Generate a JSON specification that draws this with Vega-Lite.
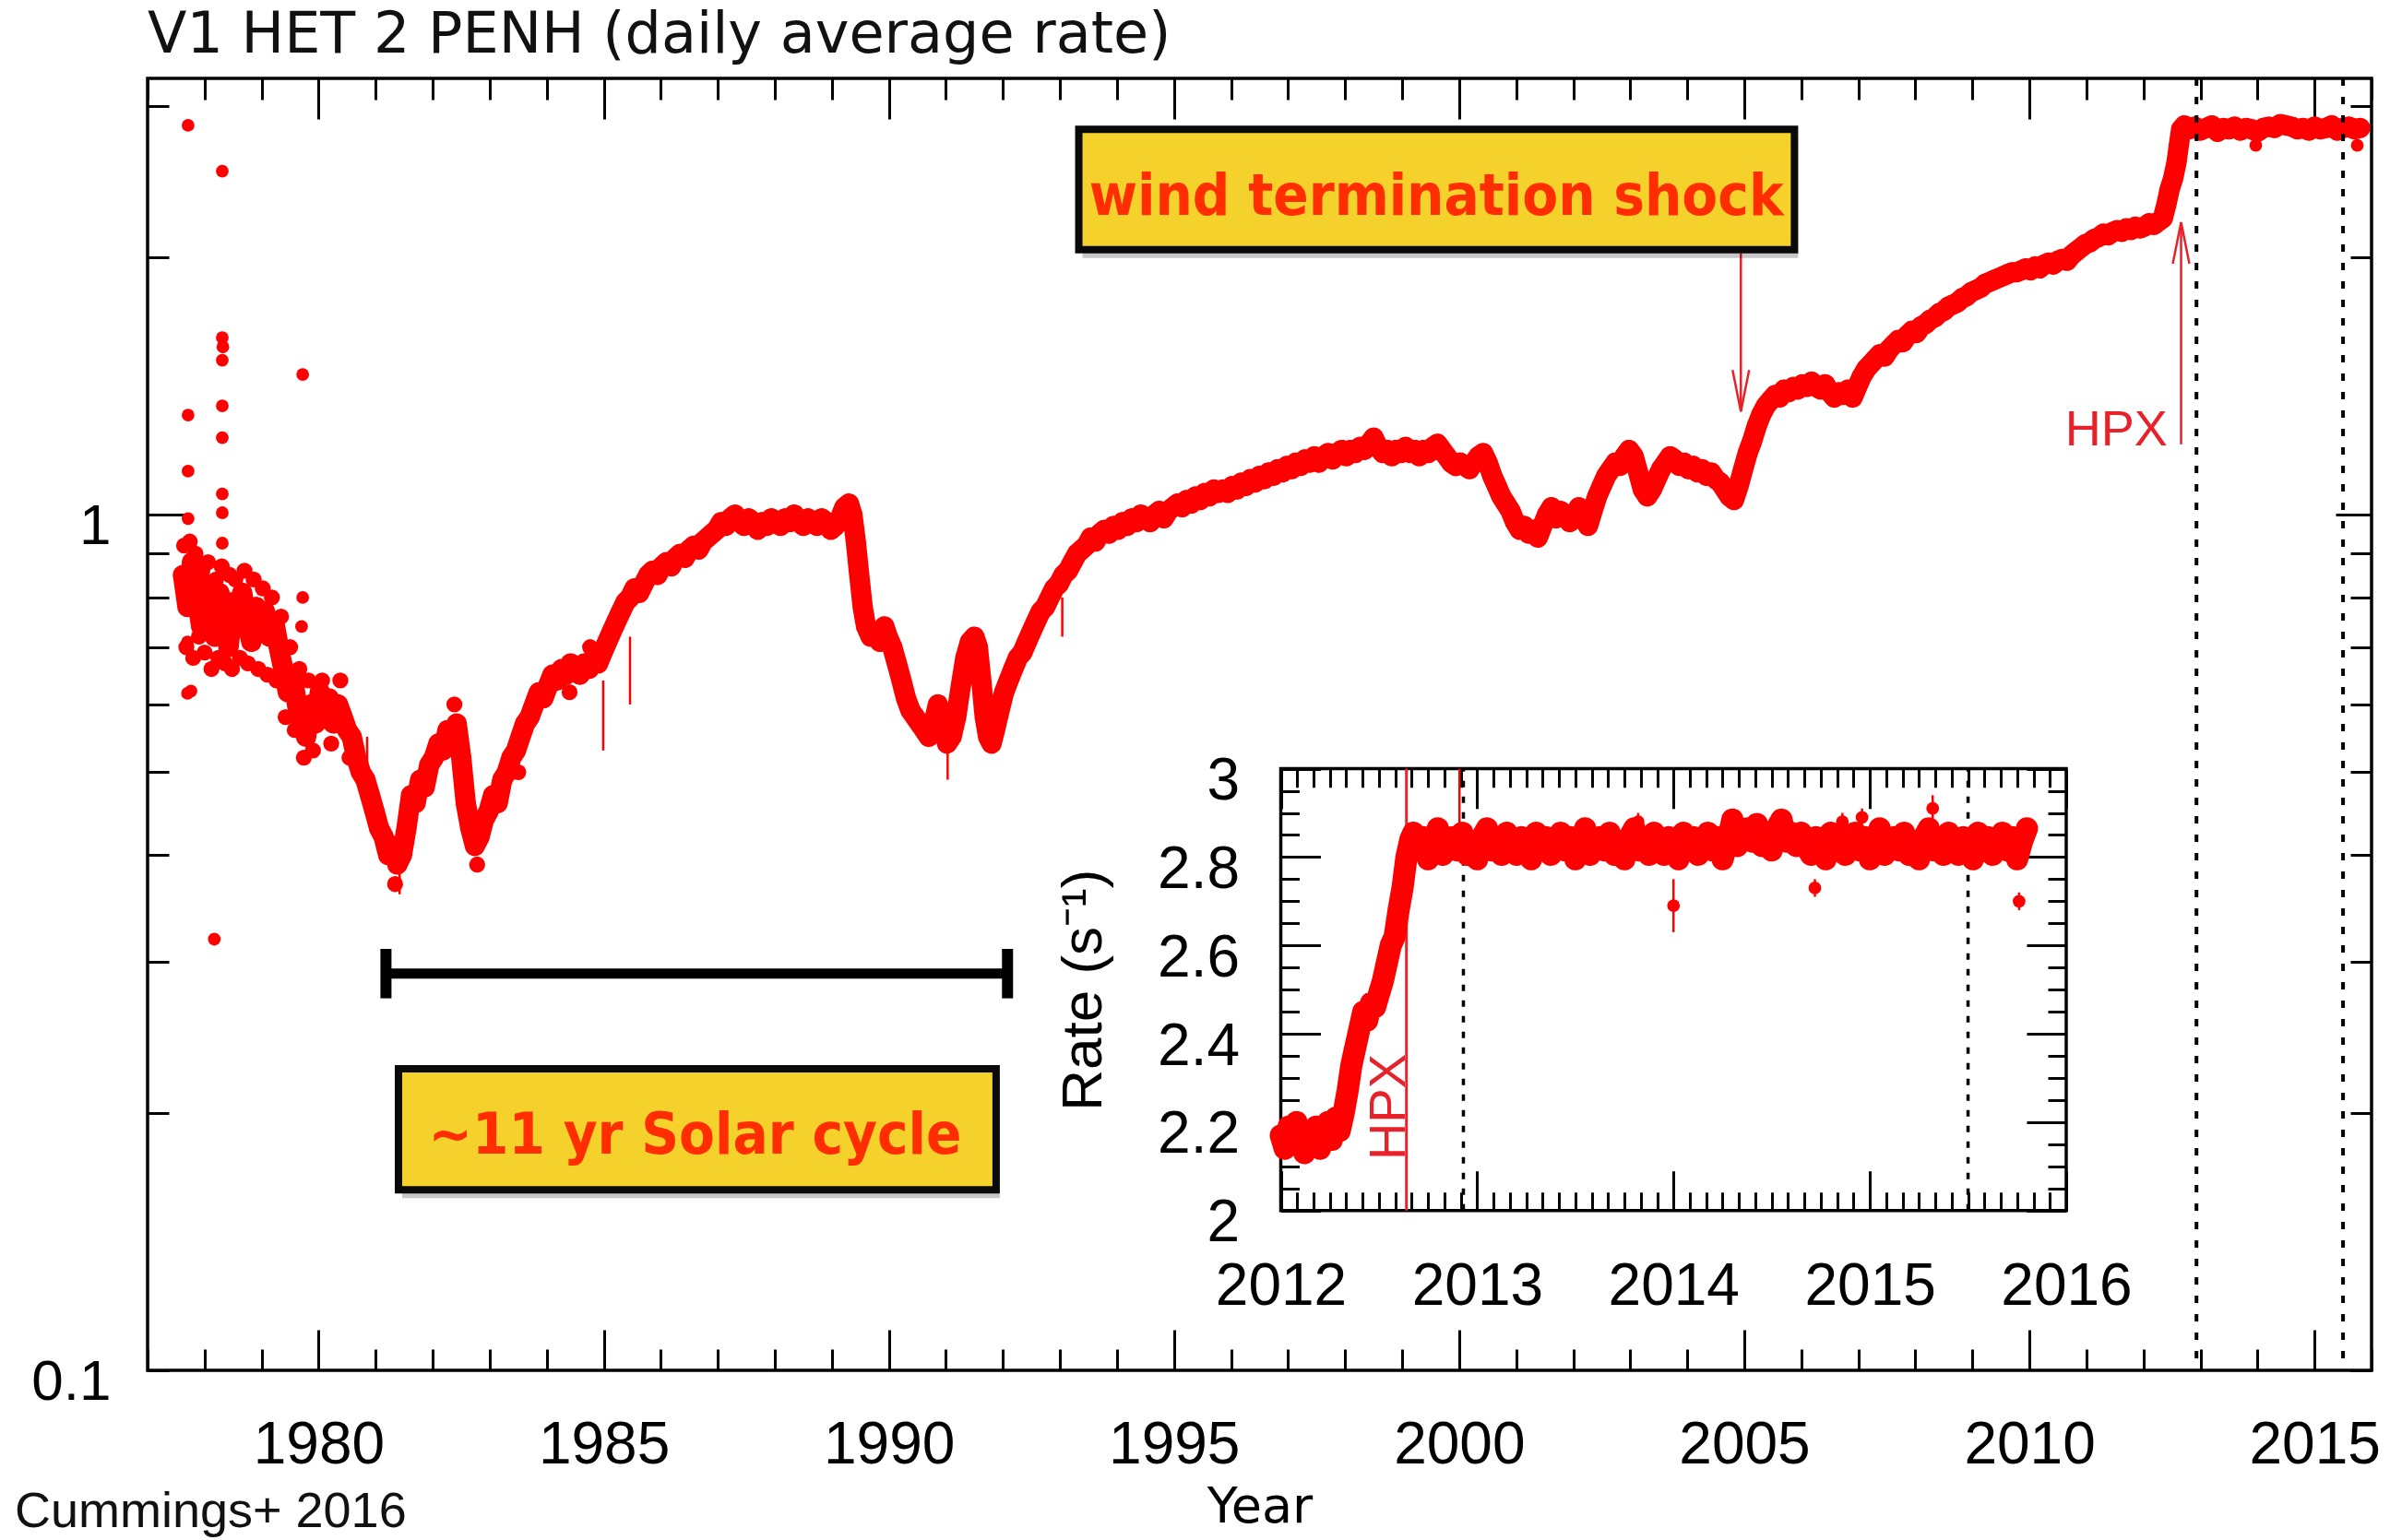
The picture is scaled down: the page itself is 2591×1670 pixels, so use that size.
{
  "$schema": "https://vega.github.io/schema/vega-lite/v6.json",
  "width": 2411,
  "height": 1401,
  "autosize": {"type": "none"},
  "padding": {"left": 160, "top": 85, "right": 20, "bottom": 184},
  "background": "white",
  "title": {
    "text": "V1 HET 2 PENH (daily average rate)",
    "anchor": "start",
    "frame": "group",
    "font": "DejaVu Sans",
    "fontSize": 62,
    "fontWeight": "normal",
    "color": "#111",
    "baseline": "alphabetic",
    "offset": -36
  },
  "config": {
    "view": {"stroke": "#000", "strokeWidth": 3.5},
    "axis": {"labelColor": "#000", "titleColor": "#000", "gridColor": "#000", "gridOpacity": 1, "gridWidth": 3, "domain": false, "ticks": false, "labelFlush": false, "labelOverlap": false}
  },
  "datasets": {
    "main": [
      {"year":1977.62,"rate":0.85},{"year":1977.70,"rate":0.78},{"year":1977.78,"rate":0.88},{"year":1977.86,"rate":0.80},{"year":1977.94,"rate":0.74},
      {"year":1978.02,"rate":0.83},{"year":1978.10,"rate":0.77},{"year":1978.18,"rate":0.72},{"year":1978.26,"rate":0.81},{"year":1978.34,"rate":0.76},
      {"year":1978.42,"rate":0.70},{"year":1978.50,"rate":0.79},{"year":1978.58,"rate":0.74},{"year":1978.66,"rate":0.81},{"year":1978.74,"rate":0.75},
      {"year":1978.82,"rate":0.71},{"year":1978.90,"rate":0.78},{"year":1978.98,"rate":0.73},{"year":1979.06,"rate":0.77},{"year":1979.14,"rate":0.72},
      {"year":1979.22,"rate":0.75},{"year":1979.30,"rate":0.70},{"year":1979.38,"rate":0.66},{"year":1979.46,"rate":0.62},{"year":1979.54,"rate":0.65},
      {"year":1979.62,"rate":0.60},{"year":1979.70,"rate":0.57},{"year":1979.78,"rate":0.55},{"year":1979.86,"rate":0.60},{"year":1979.94,"rate":0.57},
      {"year":1980.02,"rate":0.62},{"year":1980.10,"rate":0.59},{"year":1980.18,"rate":0.61},{"year":1980.26,"rate":0.57},{"year":1980.34,"rate":0.60},
      {"year":1980.42,"rate":0.58},{"year":1980.50,"rate":0.56},{"year":1980.58,"rate":0.55},{"year":1980.66,"rate":0.52},{"year":1980.74,"rate":0.50},
      {"year":1980.82,"rate":0.49},{"year":1980.90,"rate":0.47},{"year":1980.98,"rate":0.45},{"year":1981.06,"rate":0.43},{"year":1981.14,"rate":0.42},
      {"year":1981.22,"rate":0.40},{"year":1981.30,"rate":0.41},{"year":1981.38,"rate":0.39},{"year":1981.46,"rate":0.40},{"year":1981.54,"rate":0.43},
      {"year":1981.62,"rate":0.47},{"year":1981.70,"rate":0.46},{"year":1981.78,"rate":0.49},{"year":1981.86,"rate":0.48},{"year":1981.94,"rate":0.51},
      {"year":1982.02,"rate":0.52},{"year":1982.10,"rate":0.54},{"year":1982.18,"rate":0.53},{"year":1982.26,"rate":0.56},{"year":1982.34,"rate":0.55},
      {"year":1982.42,"rate":0.57},{"year":1982.50,"rate":0.52},{"year":1982.58,"rate":0.46},{"year":1982.66,"rate":0.43},{"year":1982.74,"rate":0.41},
      {"year":1982.82,"rate":0.42},{"year":1982.90,"rate":0.44},{"year":1982.98,"rate":0.45},{"year":1983.06,"rate":0.47},{"year":1983.14,"rate":0.46},
      {"year":1983.22,"rate":0.49},{"year":1983.30,"rate":0.50},{"year":1983.38,"rate":0.52},{"year":1983.46,"rate":0.53},{"year":1983.54,"rate":0.55},
      {"year":1983.62,"rate":0.57},{"year":1983.70,"rate":0.58},{"year":1983.78,"rate":0.60},{"year":1983.86,"rate":0.62},{"year":1983.94,"rate":0.61},
      {"year":1984.02,"rate":0.63},{"year":1984.10,"rate":0.65},{"year":1984.18,"rate":0.64},{"year":1984.26,"rate":0.66},{"year":1984.34,"rate":0.65},
      {"year":1984.42,"rate":0.67},{"year":1984.50,"rate":0.66},{"year":1984.58,"rate":0.65},{"year":1984.66,"rate":0.67},{"year":1984.74,"rate":0.66},
      {"year":1984.82,"rate":0.68},{"year":1984.90,"rate":0.67},{"year":1984.98,"rate":0.69},{"year":1985.06,"rate":0.71},{"year":1985.14,"rate":0.73},
      {"year":1985.22,"rate":0.75},{"year":1985.30,"rate":0.77},{"year":1985.38,"rate":0.79},{"year":1985.46,"rate":0.80},{"year":1985.54,"rate":0.82},
      {"year":1985.62,"rate":0.81},{"year":1985.70,"rate":0.83},{"year":1985.78,"rate":0.85},{"year":1985.86,"rate":0.86},{"year":1985.94,"rate":0.85},
      {"year":1986.02,"rate":0.87},{"year":1986.10,"rate":0.88},{"year":1986.18,"rate":0.87},{"year":1986.26,"rate":0.89},{"year":1986.34,"rate":0.90},
      {"year":1986.42,"rate":0.89},{"year":1986.50,"rate":0.91},{"year":1986.58,"rate":0.92},{"year":1986.66,"rate":0.91},{"year":1986.74,"rate":0.93},
      {"year":1986.82,"rate":0.94},{"year":1986.90,"rate":0.95},{"year":1986.98,"rate":0.96},{"year":1987.06,"rate":0.98},{"year":1987.14,"rate":0.97},
      {"year":1987.22,"rate":0.99},{"year":1987.30,"rate":1.00},{"year":1987.38,"rate":0.98},{"year":1987.46,"rate":0.97},{"year":1987.54,"rate":0.99},
      {"year":1987.62,"rate":0.98},{"year":1987.70,"rate":0.96},{"year":1987.78,"rate":0.98},{"year":1987.86,"rate":0.97},{"year":1987.94,"rate":0.99},
      {"year":1988.02,"rate":0.98},{"year":1988.10,"rate":0.97},{"year":1988.18,"rate":0.99},{"year":1988.26,"rate":0.98},{"year":1988.34,"rate":1.00},
      {"year":1988.42,"rate":0.98},{"year":1988.50,"rate":0.97},{"year":1988.58,"rate":0.99},{"year":1988.66,"rate":0.98},{"year":1988.74,"rate":0.97},
      {"year":1988.82,"rate":0.99},{"year":1988.90,"rate":0.98},{"year":1988.98,"rate":0.96},{"year":1989.06,"rate":0.97},{"year":1989.14,"rate":0.99},
      {"year":1989.22,"rate":1.02},{"year":1989.30,"rate":1.03},{"year":1989.36,"rate":1.00},{"year":1989.42,"rate":0.93},{"year":1989.48,"rate":0.85},
      {"year":1989.54,"rate":0.78},{"year":1989.60,"rate":0.74},{"year":1989.68,"rate":0.72},{"year":1989.76,"rate":0.73},{"year":1989.84,"rate":0.71},
      {"year":1989.92,"rate":0.74},{"year":1989.98,"rate":0.72},{"year":1990.06,"rate":0.70},{"year":1990.14,"rate":0.67},{"year":1990.22,"rate":0.64},
      {"year":1990.30,"rate":0.61},{"year":1990.38,"rate":0.59},{"year":1990.46,"rate":0.58},{"year":1990.54,"rate":0.57},{"year":1990.62,"rate":0.56},
      {"year":1990.70,"rate":0.55},{"year":1990.78,"rate":0.57},{"year":1990.86,"rate":0.60},{"year":1990.94,"rate":0.57},{"year":1991.02,"rate":0.54},
      {"year":1991.10,"rate":0.55},{"year":1991.18,"rate":0.58},{"year":1991.26,"rate":0.63},{"year":1991.34,"rate":0.68},{"year":1991.42,"rate":0.71},
      {"year":1991.50,"rate":0.72},{"year":1991.56,"rate":0.70},{"year":1991.62,"rate":0.64},{"year":1991.68,"rate":0.58},{"year":1991.74,"rate":0.55},
      {"year":1991.80,"rate":0.54},{"year":1991.86,"rate":0.56},{"year":1991.94,"rate":0.59},{"year":1992.02,"rate":0.62},{"year":1992.10,"rate":0.64},
      {"year":1992.18,"rate":0.66},{"year":1992.26,"rate":0.68},{"year":1992.34,"rate":0.69},{"year":1992.42,"rate":0.71},{"year":1992.50,"rate":0.73},
      {"year":1992.58,"rate":0.75},{"year":1992.66,"rate":0.77},{"year":1992.74,"rate":0.78},{"year":1992.82,"rate":0.80},{"year":1992.90,"rate":0.82},
      {"year":1992.98,"rate":0.83},{"year":1993.06,"rate":0.85},{"year":1993.14,"rate":0.86},{"year":1993.22,"rate":0.88},{"year":1993.30,"rate":0.90},
      {"year":1993.38,"rate":0.91},{"year":1993.46,"rate":0.92},{"year":1993.54,"rate":0.94},{"year":1993.62,"rate":0.93},{"year":1993.70,"rate":0.95},
      {"year":1993.78,"rate":0.96},{"year":1993.86,"rate":0.95},{"year":1993.94,"rate":0.97},{"year":1994.02,"rate":0.96},{"year":1994.10,"rate":0.98},
      {"year":1994.18,"rate":0.97},{"year":1994.26,"rate":0.99},{"year":1994.34,"rate":0.98},{"year":1994.42,"rate":1.00},{"year":1994.50,"rate":0.99},
      {"year":1994.58,"rate":0.98},{"year":1994.66,"rate":1.00},{"year":1994.74,"rate":1.01},{"year":1994.82,"rate":0.99},{"year":1994.90,"rate":1.01},
      {"year":1994.98,"rate":1.02},{"year":1995.06,"rate":1.03},{"year":1995.14,"rate":1.02},{"year":1995.22,"rate":1.04},{"year":1995.30,"rate":1.03},
      {"year":1995.38,"rate":1.05},{"year":1995.46,"rate":1.04},{"year":1995.54,"rate":1.06},{"year":1995.62,"rate":1.05},{"year":1995.70,"rate":1.07},
      {"year":1995.78,"rate":1.06},{"year":1995.86,"rate":1.07},{"year":1995.94,"rate":1.06},{"year":1996.02,"rate":1.08},{"year":1996.10,"rate":1.07},
      {"year":1996.18,"rate":1.09},{"year":1996.26,"rate":1.08},{"year":1996.34,"rate":1.10},{"year":1996.42,"rate":1.09},{"year":1996.50,"rate":1.11},
      {"year":1996.58,"rate":1.10},{"year":1996.66,"rate":1.12},{"year":1996.74,"rate":1.11},{"year":1996.82,"rate":1.13},{"year":1996.90,"rate":1.12},
      {"year":1996.98,"rate":1.14},{"year":1997.06,"rate":1.13},{"year":1997.14,"rate":1.15},{"year":1997.22,"rate":1.14},{"year":1997.30,"rate":1.16},
      {"year":1997.38,"rate":1.15},{"year":1997.46,"rate":1.17},{"year":1997.54,"rate":1.15},{"year":1997.62,"rate":1.17},{"year":1997.70,"rate":1.18},
      {"year":1997.78,"rate":1.16},{"year":1997.86,"rate":1.18},{"year":1997.94,"rate":1.19},{"year":1998.02,"rate":1.17},{"year":1998.10,"rate":1.19},
      {"year":1998.18,"rate":1.18},{"year":1998.26,"rate":1.20},{"year":1998.34,"rate":1.19},{"year":1998.42,"rate":1.21},{"year":1998.50,"rate":1.23},
      {"year":1998.58,"rate":1.20},{"year":1998.66,"rate":1.18},{"year":1998.74,"rate":1.19},{"year":1998.82,"rate":1.17},{"year":1998.90,"rate":1.19},
      {"year":1998.98,"rate":1.18},{"year":1999.06,"rate":1.20},{"year":1999.14,"rate":1.18},{"year":1999.22,"rate":1.19},{"year":1999.30,"rate":1.17},
      {"year":1999.38,"rate":1.19},{"year":1999.46,"rate":1.18},{"year":1999.54,"rate":1.20},{"year":1999.62,"rate":1.21},{"year":1999.70,"rate":1.19},
      {"year":1999.78,"rate":1.17},{"year":1999.86,"rate":1.15},{"year":1999.94,"rate":1.14},{"year":2000.02,"rate":1.15},{"year":2000.10,"rate":1.14},
      {"year":2000.18,"rate":1.13},{"year":2000.26,"rate":1.15},{"year":2000.34,"rate":1.17},{"year":2000.42,"rate":1.18},{"year":2000.50,"rate":1.15},
      {"year":2000.58,"rate":1.11},{"year":2000.66,"rate":1.08},{"year":2000.74,"rate":1.05},{"year":2000.82,"rate":1.03},{"year":2000.90,"rate":1.01},
      {"year":2000.98,"rate":0.98},{"year":2001.06,"rate":0.96},{"year":2001.14,"rate":0.97},{"year":2001.22,"rate":0.95},{"year":2001.30,"rate":0.96},
      {"year":2001.38,"rate":0.94},{"year":2001.46,"rate":0.97},{"year":2001.54,"rate":1.00},{"year":2001.62,"rate":1.02},{"year":2001.70,"rate":0.99},
      {"year":2001.78,"rate":1.01},{"year":2001.86,"rate":1.00},{"year":2001.94,"rate":0.98},{"year":2002.02,"rate":1.00},{"year":2002.10,"rate":1.02},
      {"year":2002.18,"rate":0.99},{"year":2002.26,"rate":0.97},{"year":2002.34,"rate":1.01},{"year":2002.42,"rate":1.05},{"year":2002.50,"rate":1.08},
      {"year":2002.58,"rate":1.11},{"year":2002.66,"rate":1.13},{"year":2002.74,"rate":1.15},{"year":2002.82,"rate":1.14},{"year":2002.90,"rate":1.17},
      {"year":2002.98,"rate":1.19},{"year":2003.06,"rate":1.17},{"year":2003.14,"rate":1.12},{"year":2003.22,"rate":1.07},{"year":2003.30,"rate":1.05},
      {"year":2003.38,"rate":1.07},{"year":2003.46,"rate":1.10},{"year":2003.54,"rate":1.13},{"year":2003.62,"rate":1.15},{"year":2003.70,"rate":1.17},
      {"year":2003.78,"rate":1.16},{"year":2003.86,"rate":1.14},{"year":2003.94,"rate":1.15},{"year":2004.02,"rate":1.13},{"year":2004.10,"rate":1.14},
      {"year":2004.18,"rate":1.12},{"year":2004.26,"rate":1.13},{"year":2004.34,"rate":1.11},{"year":2004.42,"rate":1.12},{"year":2004.50,"rate":1.10},
      {"year":2004.58,"rate":1.09},{"year":2004.66,"rate":1.07},{"year":2004.74,"rate":1.05},{"year":2004.82,"rate":1.04},{"year":2004.90,"rate":1.08},
      {"year":2004.98,"rate":1.13},{"year":2005.06,"rate":1.18},{"year":2005.14,"rate":1.22},{"year":2005.22,"rate":1.27},{"year":2005.30,"rate":1.31},
      {"year":2005.38,"rate":1.34},{"year":2005.46,"rate":1.36},{"year":2005.54,"rate":1.38},{"year":2005.62,"rate":1.37},{"year":2005.70,"rate":1.40},
      {"year":2005.78,"rate":1.39},{"year":2005.86,"rate":1.41},{"year":2005.94,"rate":1.40},{"year":2006.02,"rate":1.42},{"year":2006.10,"rate":1.41},
      {"year":2006.18,"rate":1.43},{"year":2006.26,"rate":1.41},{"year":2006.34,"rate":1.40},{"year":2006.42,"rate":1.42},{"year":2006.50,"rate":1.39},
      {"year":2006.58,"rate":1.37},{"year":2006.66,"rate":1.39},{"year":2006.74,"rate":1.38},{"year":2006.82,"rate":1.40},{"year":2006.90,"rate":1.37},
      {"year":2006.98,"rate":1.41},{"year":2007.06,"rate":1.45},{"year":2007.14,"rate":1.48},{"year":2007.22,"rate":1.50},{"year":2007.30,"rate":1.52},
      {"year":2007.38,"rate":1.54},{"year":2007.46,"rate":1.53},{"year":2007.54,"rate":1.56},{"year":2007.62,"rate":1.58},{"year":2007.70,"rate":1.60},
      {"year":2007.78,"rate":1.59},{"year":2007.86,"rate":1.62},{"year":2007.94,"rate":1.64},{"year":2008.02,"rate":1.63},{"year":2008.10,"rate":1.66},
      {"year":2008.18,"rate":1.67},{"year":2008.26,"rate":1.69},{"year":2008.34,"rate":1.70},{"year":2008.42,"rate":1.72},{"year":2008.50,"rate":1.73},
      {"year":2008.58,"rate":1.75},{"year":2008.66,"rate":1.76},{"year":2008.74,"rate":1.77},{"year":2008.82,"rate":1.79},{"year":2008.90,"rate":1.80},
      {"year":2008.98,"rate":1.82},{"year":2009.06,"rate":1.83},{"year":2009.14,"rate":1.84},{"year":2009.22,"rate":1.86},{"year":2009.30,"rate":1.87},
      {"year":2009.38,"rate":1.88},{"year":2009.46,"rate":1.89},{"year":2009.54,"rate":1.90},{"year":2009.62,"rate":1.91},{"year":2009.70,"rate":1.92},
      {"year":2009.78,"rate":1.92},{"year":2009.86,"rate":1.93},{"year":2009.94,"rate":1.94},{"year":2010.02,"rate":1.93},{"year":2010.10,"rate":1.95},
      {"year":2010.18,"rate":1.94},{"year":2010.26,"rate":1.96},{"year":2010.34,"rate":1.97},{"year":2010.42,"rate":1.96},{"year":2010.50,"rate":1.98},
      {"year":2010.58,"rate":1.99},{"year":2010.66,"rate":1.98},{"year":2010.74,"rate":2.01},{"year":2010.82,"rate":2.03},{"year":2010.90,"rate":2.05},
      {"year":2010.98,"rate":2.07},{"year":2011.06,"rate":2.08},{"year":2011.14,"rate":2.10},{"year":2011.22,"rate":2.11},{"year":2011.30,"rate":2.13},
      {"year":2011.38,"rate":2.12},{"year":2011.46,"rate":2.14},{"year":2011.54,"rate":2.15},{"year":2011.62,"rate":2.14},{"year":2011.70,"rate":2.16},
      {"year":2011.78,"rate":2.15},{"year":2011.86,"rate":2.17},{"year":2011.94,"rate":2.16},{"year":2012.02,"rate":2.17},{"year":2012.10,"rate":2.19},
      {"year":2012.18,"rate":2.18},{"year":2012.26,"rate":2.20},{"year":2012.34,"rate":2.22},{"year":2012.40,"rate":2.30},{"year":2012.46,"rate":2.40},
      {"year":2012.52,"rate":2.47},{"year":2012.58,"rate":2.58},{"year":2012.62,"rate":2.70},{"year":2012.66,"rate":2.82},{"year":2012.72,"rate":2.85},
      {"year":2012.80,"rate":2.82},{"year":2012.90,"rate":2.84},{"year":2013.00,"rate":2.81},{"year":2013.10,"rate":2.83},{"year":2013.20,"rate":2.85},
      {"year":2013.30,"rate":2.80},{"year":2013.40,"rate":2.83},{"year":2013.50,"rate":2.82},{"year":2013.60,"rate":2.84},{"year":2013.70,"rate":2.81},
      {"year":2013.80,"rate":2.83},{"year":2013.90,"rate":2.82},{"year":2014.00,"rate":2.80},{"year":2014.10,"rate":2.83},{"year":2014.20,"rate":2.84},
      {"year":2014.30,"rate":2.83},{"year":2014.40,"rate":2.86},{"year":2014.50,"rate":2.85},{"year":2014.60,"rate":2.84},{"year":2014.70,"rate":2.82},
      {"year":2014.80,"rate":2.83},{"year":2014.90,"rate":2.81},{"year":2015.00,"rate":2.84},{"year":2015.10,"rate":2.82},{"year":2015.20,"rate":2.83},
      {"year":2015.30,"rate":2.85},{"year":2015.40,"rate":2.81},{"year":2015.50,"rate":2.83},{"year":2015.60,"rate":2.84},{"year":2015.70,"rate":2.82},
      {"year":2015.80,"rate":2.83}
    ],
    "early": [
      {"year":1977.64,"rate":0.92},{"year":1977.68,"rate":0.70},{"year":1977.74,"rate":0.93},{"year":1977.80,"rate":0.68},{"year":1977.84,"rate":0.90},
      {"year":1977.90,"rate":0.72},{"year":1977.96,"rate":0.86},{"year":1978.00,"rate":0.69},{"year":1978.06,"rate":0.88},{"year":1978.12,"rate":0.66},
      {"year":1978.20,"rate":0.84},{"year":1978.24,"rate":0.68},{"year":1978.30,"rate":0.87},{"year":1978.36,"rate":0.67},{"year":1978.44,"rate":0.85},
      {"year":1978.48,"rate":0.66},{"year":1978.54,"rate":0.84},{"year":1978.62,"rate":0.68},{"year":1978.70,"rate":0.86},{"year":1978.76,"rate":0.67},
      {"year":1978.86,"rate":0.84},{"year":1978.94,"rate":0.66},{"year":1979.02,"rate":0.82},{"year":1979.10,"rate":0.65},{"year":1979.18,"rate":0.80},
      {"year":1979.26,"rate":0.64},{"year":1979.34,"rate":0.76},{"year":1979.42,"rate":0.58},{"year":1979.50,"rate":0.70},{"year":1979.58,"rate":0.56},
      {"year":1979.66,"rate":0.66},{"year":1979.74,"rate":0.52},{"year":1979.82,"rate":0.64},{"year":1979.90,"rate":0.53},{"year":1980.06,"rate":0.64},
      {"year":1980.22,"rate":0.54},{"year":1980.38,"rate":0.64},{"year":1980.54,"rate":0.52},{"year":1981.34,"rate":0.37},{"year":1982.38,"rate":0.60},
      {"year":1982.78,"rate":0.39},{"year":1983.50,"rate":0.50},{"year":1984.40,"rate":0.62},{"year":1984.76,"rate":0.70}
    ],
    "scatter": [
      {"year":1977.71,"rate":2.85},{"year":1978.31,"rate":2.52},{"year":1978.31,"rate":1.61},{"year":1978.32,"rate":1.57},
      {"year":1978.31,"rate":1.515},{"year":1978.31,"rate":1.34},{"year":1978.31,"rate":1.23},{"year":1978.31,"rate":1.057},
      {"year":1978.31,"rate":1.005},{"year":1978.31,"rate":0.926},{"year":1979.72,"rate":1.458},{"year":1977.71,"rate":1.307},
      {"year":1977.71,"rate":1.124},{"year":1977.71,"rate":0.989},{"year":1977.70,"rate":0.618},{"year":1977.76,"rate":0.622},
      {"year":1978.17,"rate":0.319},{"year":1977.70,"rate":0.71},{"year":1979.72,"rate":0.80},{"year":1979.70,"rate":0.74},
      {"year":2013.97,"rate":2.70},{"year":2015.75,"rate":2.70}
    ],
    "mainErr": [
      {"year":1984.99,"lo":0.53,"hi":0.64},{"year":1991.03,"lo":0.49,"hi":0.56},{"year":1993.04,"lo":0.72,"hi":0.80},
      {"year":1981.42,"lo":0.36,"hi":0.42},{"year":1980.85,"lo":0.47,"hi":0.55},{"year":1985.46,"lo":0.60,"hi":0.72}
    ],
    "arrows": [
      {"year":2004.94,"from":2.02,"to":1.32,"dir":"down"},
      {"year":2012.66,"from":1.208,"to":2.196,"dir":"up"}
    ],
    "boundaries": [{"year":2012.93},{"year":2015.5}],
    "inset": [
      {"year":2012.00,"rate":2.17},{"year":2012.02,"rate":2.14},{"year":2012.04,"rate":2.19},{"year":2012.06,"rate":2.15},{"year":2012.08,"rate":2.20},
      {"year":2012.10,"rate":2.16},{"year":2012.12,"rate":2.13},{"year":2012.14,"rate":2.18},{"year":2012.16,"rate":2.15},{"year":2012.18,"rate":2.19},
      {"year":2012.20,"rate":2.14},{"year":2012.22,"rate":2.17},{"year":2012.24,"rate":2.20},{"year":2012.26,"rate":2.16},{"year":2012.28,"rate":2.21},
      {"year":2012.30,"rate":2.18},{"year":2012.32,"rate":2.22},{"year":2012.34,"rate":2.27},{"year":2012.36,"rate":2.33},{"year":2012.38,"rate":2.37},
      {"year":2012.40,"rate":2.41},{"year":2012.42,"rate":2.45},{"year":2012.44,"rate":2.43},{"year":2012.46,"rate":2.47},{"year":2012.48,"rate":2.46},
      {"year":2012.50,"rate":2.49},{"year":2012.52,"rate":2.52},{"year":2012.54,"rate":2.56},{"year":2012.56,"rate":2.60},{"year":2012.58,"rate":2.62},
      {"year":2012.60,"rate":2.68},{"year":2012.62,"rate":2.73},{"year":2012.64,"rate":2.80},{"year":2012.66,"rate":2.84},
      {"year":2012.675,"rate":2.855},{"year":2012.700,"rate":2.815},{"year":2012.725,"rate":2.845},{"year":2012.750,"rate":2.795},{"year":2012.775,"rate":2.835},
      {"year":2012.800,"rate":2.865},{"year":2012.825,"rate":2.805},{"year":2012.850,"rate":2.825},{"year":2012.875,"rate":2.845},{"year":2012.900,"rate":2.815},
      {"year":2012.925,"rate":2.855},{"year":2012.950,"rate":2.805},{"year":2012.975,"rate":2.835},{"year":2013.000,"rate":2.795},{"year":2013.025,"rate":2.845},
      {"year":2013.050,"rate":2.865},{"year":2013.075,"rate":2.815},{"year":2013.100,"rate":2.835},{"year":2013.125,"rate":2.805},{"year":2013.150,"rate":2.855},
      {"year":2013.175,"rate":2.825},{"year":2013.200,"rate":2.805},{"year":2013.225,"rate":2.845},{"year":2013.250,"rate":2.835},{"year":2013.275,"rate":2.795},
      {"year":2013.300,"rate":2.855},{"year":2013.325,"rate":2.815},{"year":2013.350,"rate":2.845},{"year":2013.375,"rate":2.805},{"year":2013.400,"rate":2.835},
      {"year":2013.425,"rate":2.855},{"year":2013.450,"rate":2.815},{"year":2013.475,"rate":2.845},{"year":2013.500,"rate":2.795},{"year":2013.525,"rate":2.835},
      {"year":2013.550,"rate":2.865},{"year":2013.575,"rate":2.805},{"year":2013.600,"rate":2.825},{"year":2013.625,"rate":2.845},{"year":2013.650,"rate":2.815},
      {"year":2013.675,"rate":2.855},{"year":2013.700,"rate":2.805},{"year":2013.725,"rate":2.835},{"year":2013.750,"rate":2.795},{"year":2013.775,"rate":2.845},
      {"year":2013.800,"rate":2.865},{"year":2013.825,"rate":2.815},{"year":2013.850,"rate":2.835},{"year":2013.875,"rate":2.805},{"year":2013.900,"rate":2.855},
      {"year":2013.925,"rate":2.825},{"year":2013.950,"rate":2.805},{"year":2013.975,"rate":2.845},{"year":2014.000,"rate":2.835},{"year":2014.025,"rate":2.795},
      {"year":2014.050,"rate":2.855},{"year":2014.075,"rate":2.815},{"year":2014.100,"rate":2.845},{"year":2014.125,"rate":2.805},{"year":2014.150,"rate":2.835},
      {"year":2014.175,"rate":2.855},{"year":2014.200,"rate":2.815},{"year":2014.225,"rate":2.845},{"year":2014.250,"rate":2.795},{"year":2014.275,"rate":2.835},
      {"year":2014.300,"rate":2.885},{"year":2014.325,"rate":2.825},{"year":2014.350,"rate":2.845},{"year":2014.375,"rate":2.865},{"year":2014.400,"rate":2.835},
      {"year":2014.425,"rate":2.875},{"year":2014.450,"rate":2.825},{"year":2014.475,"rate":2.855},{"year":2014.500,"rate":2.815},{"year":2014.525,"rate":2.865},
      {"year":2014.550,"rate":2.885},{"year":2014.575,"rate":2.835},{"year":2014.600,"rate":2.855},{"year":2014.625,"rate":2.825},{"year":2014.650,"rate":2.855},
      {"year":2014.675,"rate":2.825},{"year":2014.700,"rate":2.805},{"year":2014.725,"rate":2.845},{"year":2014.750,"rate":2.835},{"year":2014.775,"rate":2.795},
      {"year":2014.800,"rate":2.855},{"year":2014.825,"rate":2.815},{"year":2014.850,"rate":2.845},{"year":2014.875,"rate":2.805},{"year":2014.900,"rate":2.835},
      {"year":2014.925,"rate":2.855},{"year":2014.950,"rate":2.815},{"year":2014.975,"rate":2.845},{"year":2015.000,"rate":2.795},{"year":2015.025,"rate":2.835},
      {"year":2015.050,"rate":2.865},{"year":2015.075,"rate":2.805},{"year":2015.100,"rate":2.825},{"year":2015.125,"rate":2.845},{"year":2015.150,"rate":2.815},
      {"year":2015.175,"rate":2.855},{"year":2015.200,"rate":2.805},{"year":2015.225,"rate":2.835},{"year":2015.250,"rate":2.795},{"year":2015.275,"rate":2.845},
      {"year":2015.300,"rate":2.865},{"year":2015.325,"rate":2.815},{"year":2015.350,"rate":2.835},{"year":2015.375,"rate":2.805},{"year":2015.400,"rate":2.855},
      {"year":2015.425,"rate":2.825},{"year":2015.450,"rate":2.805},{"year":2015.475,"rate":2.845},{"year":2015.500,"rate":2.835},{"year":2015.525,"rate":2.795},
      {"year":2015.550,"rate":2.855},{"year":2015.575,"rate":2.815},{"year":2015.600,"rate":2.845},{"year":2015.625,"rate":2.805},{"year":2015.650,"rate":2.835},
      {"year":2015.675,"rate":2.855},{"year":2015.700,"rate":2.815},{"year":2015.725,"rate":2.845},{"year":2015.750,"rate":2.795},{"year":2015.775,"rate":2.835},
      {"year":2015.800,"rate":2.865}
    ],
    "insetOutliers": [
      {"year":2014.00,"rate":2.69,"lo":2.63,"hi":2.75},
      {"year":2014.72,"rate":2.73,"lo":2.71,"hi":2.75},
      {"year":2015.76,"rate":2.70,"lo":2.68,"hi":2.72},
      {"year":2013.82,"rate":2.88,"lo":2.86,"hi":2.90},
      {"year":2014.86,"rate":2.88,"lo":2.86,"hi":2.90},
      {"year":2014.96,"rate":2.89,"lo":2.87,"hi":2.91},
      {"year":2015.32,"rate":2.91,"lo":2.88,"hi":2.94},
      {"year":2012.91,"rate":2.84,"lo":2.80,"hi":3.0}
    ]
  },
  "layer": [
    {
      "layer": [
        {
          "data": {"name": "main"},
          "mark": {"type": "line", "color": "#ff0000", "strokeWidth": 22, "strokeJoin": "round", "strokeCap": "round"},
          "encoding": {
            "x": {
              "field": "year", "type": "quantitative",
              "scale": {"domain": [1977, 2016], "nice": false, "zero": false},
              "axis": {
                "orient": "bottom",
                "values": [1977,1978,1979,1980,1981,1982,1983,1984,1985,1986,1987,1988,1989,1990,1991,1992,1993,1994,1995,1996,1997,1998,1999,2000,2001,2002,2003,2004,2005,2006,2007,2008,2009,2010,2011,2012,2013,2014,2015,2016],
                "labelExpr": "datum.value % 5 === 0 ? '' + datum.value : ''",
                "labelFont": "Liberation Sans", "labelFontSize": 64, "labelPadding": 49, "labelBaseline": "top",
                "title": "Year", "titleFont": "DejaVu Sans", "titleFontSize": 54, "titleFontWeight": "normal", "titlePadding": 8,
                "grid": true,
                "gridDash": {"condition": {"test": "datum.value % 5 === 0", "value": [44, 1313, 44]}, "value": [23, 1355, 23]}
              }
            },
            "y": {
              "field": "rate", "type": "quantitative",
              "scale": {"type": "log", "domain": [0.1, 3.234], "nice": false},
              "axis": {
                "orient": "left",
                "values": [0.1,0.2,0.3,0.4,0.5,0.6,0.7,0.8,0.9,1,2,3],
                "labelExpr": "datum.value === 1 ? '1' : (abs(datum.value - 0.1) < 1e-9 ? '0.1' : '')",
                "labelFont": "Liberation Sans", "labelFontSize": 62, "labelPadding": 40, "labelBaseline": "middle", "labelOffset": 12,
                "title": null,
                "grid": true,
                "gridDash": {"condition": {"test": "datum.value === 1", "value": [39, 2333, 39]}, "value": [23, 2365, 23]}
              }
            }
          }
        },
        {
          "data": {"name": "main"},
          "mark": {"type": "circle", "color": "#ff0000", "size": 450, "opacity": 1},
          "encoding": {
            "x": {"field": "year", "type": "quantitative"},
            "y": {"field": "rate", "type": "quantitative"}
          }
        },
        {
          "data": {"name": "early"},
          "mark": {"type": "circle", "color": "#ff0000", "size": 300, "opacity": 1},
          "encoding": {
            "x": {"field": "year", "type": "quantitative"},
            "y": {"field": "rate", "type": "quantitative"}
          }
        },
        {
          "data": {"name": "scatter"},
          "mark": {"type": "circle", "color": "#ff0000", "size": 190, "opacity": 1},
          "encoding": {
            "x": {"field": "year", "type": "quantitative"},
            "y": {"field": "rate", "type": "quantitative"}
          }
        },
        {
          "data": {"name": "mainErr"},
          "mark": {"type": "rule", "color": "#ff0000", "strokeWidth": 2.5},
          "encoding": {
            "x": {"field": "year", "type": "quantitative"},
            "y": {"field": "lo", "type": "quantitative"},
            "y2": {"field": "hi"}
          }
        },
        {
          "data": {"name": "boundaries"},
          "mark": {"type": "rule", "color": "#000", "strokeWidth": 4, "strokeDash": [8, 12]},
          "encoding": {
            "x": {"field": "year", "type": "quantitative"}
          }
        },
        {
          "data": {"name": "arrows"},
          "mark": {"type": "rule", "color": "#e8222a", "strokeWidth": 2.5},
          "encoding": {
            "x": {"field": "year", "type": "quantitative"},
            "y": {"field": "from", "type": "quantitative"},
            "y2": {"field": "to"}
          }
        },
        {
          "data": {"name": "arrows"},
          "mark": {"type": "point", "filled": false, "color": "#e8222a", "strokeWidth": 2.5, "size": 8100, "opacity": 1},
          "encoding": {
            "x": {"field": "year", "type": "quantitative"},
            "y": {"field": "to", "type": "quantitative"},
            "shape": {"field": "dir", "type": "nominal", "legend": null,
              "scale": {"domain": ["down", "up"], "range": ["M-0.2,-1L0,0L0.2,-1", "M-0.2,1L0,0L0.2,1"]}}
          }
        },
        {
          "data": {"values": [{}]},
          "mark": {"type": "text", "text": "HPX", "font": "Liberation Sans", "fontSize": 54, "color": "#e8222a", "align": "right", "baseline": "alphabetic"},
          "encoding": {
            "x": {"datum": 2012.42, "type": "quantitative"},
            "y": {"datum": 1.205, "type": "quantitative"}
          }
        },
        {
          "data": {"values": [{}]},
          "mark": {"type": "rule", "color": "#000", "strokeWidth": 11},
          "encoding": {
            "x": {"datum": 1981.18, "type": "quantitative"},
            "x2": {"datum": 1992.08},
            "y": {"datum": 0.2908, "type": "quantitative"}
          }
        },
        {
          "data": {"values": [{"year": 1981.18}, {"year": 1992.08}]},
          "mark": {"type": "rule", "color": "#000", "strokeWidth": 12},
          "encoding": {
            "x": {"field": "year", "type": "quantitative"},
            "y": {"datum": 0.2721, "type": "quantitative"},
            "y2": {"datum": 0.3108}
          }
        },
        {
          "data": {"values": [{"x0": 1993.33, "x1": 2005.88, "y0": 2.82, "y1": 2.04}, {"x0": 1981.40, "x1": 1991.88, "y0": 0.2251, "y1": 0.1625}]},
          "layer": [
            {
              "mark": {"type": "rect", "color": "#000", "opacity": 0.22, "xOffset": 4, "x2Offset": 4, "yOffset": 9, "y2Offset": 9},
              "encoding": {
                "x": {"field": "x0", "type": "quantitative"},
                "x2": {"field": "x1"},
                "y": {"field": "y0", "type": "quantitative"},
                "y2": {"field": "y1"}
              }
            },
            {
              "mark": {"type": "rect", "fill": "#f5d22b", "stroke": "#0a0a0a", "strokeWidth": 8, "opacity": 1},
              "encoding": {
                "x": {"field": "x0", "type": "quantitative"},
                "x2": {"field": "x1"},
                "y": {"field": "y0", "type": "quantitative"},
                "y2": {"field": "y1"}
              }
            }
          ]
        },
        {
          "data": {"values": [{"note": "wind termination shock", "year": 1999.6, "rate": 2.239}, {"note": "~11 yr Solar cycle", "year": 1986.6, "rate": 0.1791}]},
          "mark": {"type": "text", "font": "DejaVu Sans Condensed, DejaVu Sans, sans-serif", "fontWeight": "bold", "fontSize": 63, "color": "#ff2d00", "align": "center", "baseline": "alphabetic"},
          "encoding": {
            "x": {"field": "year", "type": "quantitative"},
            "y": {"field": "rate", "type": "quantitative"},
            "text": {"field": "note"}
          }
        },
        {
          "data": {"values": [{}]},
          "mark": {"type": "text", "text": "Cummings+ 2016", "font": "Liberation Sans", "fontSize": 54, "color": "#111", "align": "left", "baseline": "alphabetic"},
          "encoding": {
            "x": {"datum": 1974.67, "type": "quantitative"},
            "y": {"datum": 0.0656, "type": "quantitative"}
          }
        }
      ]
    },
    {
      "layer": [
        {
          "data": {"values": [{}]},
          "mark": {"type": "rect", "filled": false, "stroke": "#000", "strokeWidth": 3.5},
          "encoding": {
            "x": {
              "datum": 2012, "type": "quantitative",
              "scale": {"domain": [2012, 2016], "range": [1228.5, 2080], "nice": false, "zero": false},
              "axis": {
                "orient": "top", "offset": -748.6,
                "values": [2012,2012.0833,2012.1667,2012.25,2012.3333,2012.4167,2012.5,2012.5833,2012.6667,2012.75,2012.8333,2012.9167,
                           2013,2013.0833,2013.1667,2013.25,2013.3333,2013.4167,2013.5,2013.5833,2013.6667,2013.75,2013.8333,2013.9167,
                           2014,2014.0833,2014.1667,2014.25,2014.3333,2014.4167,2014.5,2014.5833,2014.6667,2014.75,2014.8333,2014.9167,
                           2015,2015.0833,2015.1667,2015.25,2015.3333,2015.4167,2015.5,2015.5833,2015.6667,2015.75,2015.8333,2015.9167,2016],
                "labelExpr": "abs(datum.value - round(datum.value)) < 0.001 ? '' + round(datum.value) : ''",
                "labelFont": "Liberation Sans", "labelFontSize": 64, "labelPadding": -529.4, "labelBaseline": "top",
                "title": null,
                "grid": true,
                "gridDash": {"condition": {"test": "abs(datum.value - round(datum.value)) < 0.001", "value": [43, 393, 43]}, "value": [20, 439, 20]}
              }
            },
            "x2": {"datum": 2016},
            "y": {
              "datum": 2, "type": "quantitative",
              "scale": {"domain": [2, 3], "range": [1227.7, 748.6], "nice": false, "zero": false},
              "axis": {
                "orient": "left", "offset": -1228.5,
                "values": [2,2.05,2.1,2.15,2.2,2.25,2.3,2.35,2.4,2.45,2.5,2.55,2.6,2.65,2.7,2.75,2.8,2.85,2.9,2.95,3],
                "labelExpr": "abs(datum.value * 5 - round(datum.value * 5)) < 0.001 ? format(datum.value, '.1~f') : ''",
                "labelFont": "Liberation Sans", "labelFontSize": 64, "labelPadding": 45, "labelBaseline": "middle", "labelOffset": 14,
                "title": "Rate  (s⁻¹)", "titleFont": "Liberation Sans", "titleFontSize": 62, "titleFontWeight": "normal", "titlePadding": 48,
                "grid": true,
                "gridDash": {"condition": {"test": "abs(datum.value * 5 - round(datum.value * 5)) < 0.001", "value": [43, 765.5, 43]}, "value": [20, 811.5, 20]}
              }
            },
            "y2": {"datum": 3}
          }
        },
        {
          "data": {"values": [{}]},
          "mark": {"type": "rule", "color": "#e8222a", "strokeWidth": 3},
          "encoding": {
            "x": {"datum": 2012.64, "type": "quantitative"},
            "y": {"datum": 2, "type": "quantitative"},
            "y2": {"datum": 3}
          }
        },
        {
          "data": {"name": "boundaries"},
          "mark": {"type": "rule", "color": "#000", "strokeWidth": 3.5, "strokeDash": [7, 10]},
          "encoding": {
            "x": {"field": "year", "type": "quantitative"},
            "y": {"datum": 2, "type": "quantitative"},
            "y2": {"datum": 3}
          }
        },
        {
          "data": {"name": "inset"},
          "mark": {"type": "line", "color": "#ff0000", "strokeWidth": 24, "strokeJoin": "round", "strokeCap": "round"},
          "encoding": {
            "x": {"field": "year", "type": "quantitative"},
            "y": {"field": "rate", "type": "quantitative"}
          }
        },
        {
          "data": {"name": "inset"},
          "mark": {"type": "circle", "color": "#ff0000", "size": 260, "opacity": 1},
          "encoding": {
            "x": {"field": "year", "type": "quantitative"},
            "y": {"field": "rate", "type": "quantitative"}
          }
        },
        {
          "data": {"name": "insetOutliers"},
          "mark": {"type": "rule", "color": "#ff0000", "strokeWidth": 2.5},
          "encoding": {
            "x": {"field": "year", "type": "quantitative"},
            "y": {"field": "lo", "type": "quantitative"},
            "y2": {"field": "hi"}
          }
        },
        {
          "data": {"name": "insetOutliers"},
          "mark": {"type": "circle", "color": "#ff0000", "size": 190, "opacity": 1},
          "encoding": {
            "x": {"field": "year", "type": "quantitative"},
            "y": {"field": "rate", "type": "quantitative"}
          }
        },
        {
          "data": {"values": [{}]},
          "mark": {"type": "text", "text": "HPX", "font": "Liberation Sans", "fontSize": 56, "color": "#e8222a", "angle": 270, "align": "left", "baseline": "alphabetic"},
          "encoding": {
            "x": {"datum": 2012.632, "type": "quantitative"},
            "y": {"datum": 2.114, "type": "quantitative"}
          }
        }
      ]
    }
  ],
  "resolve": {"scale": {"x": "independent", "y": "independent"}}
}
